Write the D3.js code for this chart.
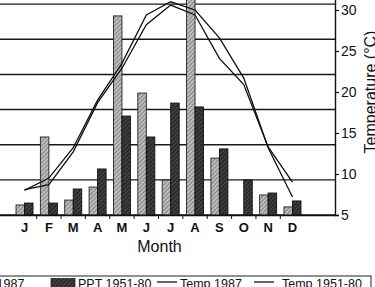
<!DOCTYPE html>
<html><head><meta charset="utf-8">
<script src="https://cdn.jsdelivr.net/npm/d3@7"></script>
<style>
body{margin:0;background:#fff}
svg{display:block}
text{font-family:"Liberation Sans",Arial,Helvetica,sans-serif;fill:#111}
</style>
</head><body>
<svg id="chart" width="375" height="287"></svg>
<script>
// ---- data ----
const months = ["J","F","M","A","M","J","J","A","S","O","N","D"];
const ppt1987 = [5.7, 44.4, 8.5, 15.9, 113.3, 69.4, 19.9, 136, 32.4, 0, 11.4, 4.6];
const ppt5180 = [6.8, 6.8, 14.8, 26.2, 56.3, 44.4, 63.7, 61.5, 37.6, 19.9, 12.5, 8.0];
const temp1987 = [8.0, 9.5, 13.2, 19.0, 23.5, 29.4, 31.0, 30.0, 26.6, 21.7, 13.2, 7.2];
const temp5180 = [8.1, 8.7, 12.7, 18.7, 22.9, 28.2, 30.6, 29.4, 24.1, 20.9, 13.3, 9.0];
const pptTicks = [0, 20, 40, 60, 80, 100, 120, 140];
const tempTicks = [5, 10, 15, 20, 25, 30];
const legendLabels = ["PPT 1987", "PPT 1951-80", "Temp 1987", "Temp 1951-80"];
const xTitle = "Month";
const yRightTitle = "Temperature (°C)";

// ---- layout ----
const svg = d3.select("#chart");
const L = -18, R = 335, T = -31, B = 215;

const defs = svg.append("defs");
const pLight = defs.append("pattern").attr("id","hLight").attr("patternUnits","userSpaceOnUse")
  .attr("width",3).attr("height",3).attr("patternTransform","rotate(45)");
pLight.append("rect").attr("width",3).attr("height",3).attr("fill","#bdbdbd");
pLight.append("line").attr("x1",0).attr("y1",0).attr("x2",0).attr("y2",3).attr("stroke","#5e5e5e").attr("stroke-width",1.2);
const pDark = defs.append("pattern").attr("id","hDark").attr("patternUnits","userSpaceOnUse")
  .attr("width",3).attr("height",3).attr("patternTransform","rotate(45)");
pDark.append("rect").attr("width",3).attr("height",3).attr("fill","#2a2a2a");
pDark.append("line").attr("x1",0).attr("y1",0).attr("x2",0).attr("y2",3).attr("stroke","#7a7a7a").attr("stroke-width",0.8);

const x = d3.scaleBand().domain(d3.range(months.length)).range([L, R]).paddingOuter(1.245).paddingInner(0);
const sub = d3.scaleBand().domain(["a","b"]).range([0, 17]);
const yP = d3.scaleLinear().domain([0, 140]).range([B, T]);
const yT = d3.scaleLinear().domain([5, 35]).range([B, T]);

// gridlines from precipitation axis
svg.append("g").selectAll("line").data(pptTicks).join("line")
  .attr("x1", L).attr("x2", R).attr("y1", d => yP(d)).attr("y2", d => yP(d))
  .attr("stroke", "#1a1a1a").attr("stroke-width", 1.4);

// left axis (lies outside the cropped view; labels not shown)
svg.append("g").attr("transform", `translate(${L},0)`)
  .call(d3.axisLeft(yP).tickValues(pptTicks).tickFormat(""));

// bars
const bars = svg.append("g");
const cx = i => x(i) + x.bandwidth() / 2;
bars.selectAll("rect.a").data(ppt1987).join("rect").attr("class","a")
  .attr("x", (d,i) => cx(i) - 8.5 + sub("a")).attr("width", sub.bandwidth())
  .attr("y", d => yP(d)).attr("height", d => yP(0) - yP(d))
  .attr("fill", "url(#hLight)").attr("stroke", d => d > 0 ? "#222" : "none").attr("stroke-width", 0.9);
bars.selectAll("rect.b").data(ppt5180).join("rect").attr("class","b")
  .attr("x", (d,i) => cx(i) - 8.5 + sub("b")).attr("width", sub.bandwidth())
  .attr("y", d => yP(d)).attr("height", d => yP(0) - yP(d))
  .attr("fill", "url(#hDark)").attr("stroke", "#111").attr("stroke-width", 0.9);

// temperature lines
const line = d3.line().x((d,i) => cx(i)).y(d => yT(d));
[temp1987, temp5180].forEach(s => {
  svg.append("path").datum(s).attr("d", line).attr("fill","none")
    .attr("stroke","#111").attr("stroke-width",1.3);
});

// bottom axis
const xb = svg.append("g").attr("transform", `translate(0,${B})`);
xb.call(d3.axisBottom(x).tickSize(0).tickPadding(8).tickFormat(i => months[i]));
xb.select(".domain").attr("stroke","#111").attr("stroke-width",1.4);
xb.selectAll("text").attr("font-size", 13).attr("font-weight", "bold").attr("fill","#111");
xb.selectAll("line.bnd").data(d3.range(1, months.length)).join("line").attr("class","bnd")
  .attr("x1", i => x(i)).attr("x2", i => x(i)).attr("y1", 0).attr("y2", 4)
  .attr("stroke", "#111").attr("stroke-width", 1);

// right axis
const ra = svg.append("g").attr("transform", `translate(${R},0)`)
  .call(d3.axisRight(yT).tickValues(tempTicks).tickSize(4).tickPadding(2));
ra.select(".domain").attr("stroke","#111").attr("stroke-width",1.4);
ra.selectAll("text").attr("font-size", 14).attr("fill","#111");
ra.selectAll(".tick line").attr("stroke","#111").attr("stroke-width",1.2);

// titles
svg.append("text").attr("x", (L + R) / 2 + 1).attr("y", 252).attr("text-anchor","middle")
  .attr("font-size", 16).text(xTitle);
svg.append("text").attr("transform", "translate(376,92) rotate(-90)").attr("text-anchor","middle")
  .attr("font-size", 16).text(yRightTitle);

// legend
const lg = svg.append("g");
lg.append("rect").attr("x", -80).attr("y", 276).attr("width", 451).attr("height", 30)
  .attr("fill","none").attr("stroke","#222").attr("stroke-width",1);
const items = [
  {kind:"rect", fill:"url(#hLight)", sx:-60, tx:-31},
  {kind:"rect", fill:"url(#hDark)", sx:51, tx:78},
  {kind:"line", sx:157, tx:180},
  {kind:"line", sx:254, tx:282}
];
items.forEach((it, k) => {
  if (it.kind === "rect") {
    lg.append("rect").attr("x", it.sx).attr("y", 278.5).attr("width", 24).attr("height", 12)
      .attr("fill", it.fill).attr("stroke","#222").attr("stroke-width",0.8);
  } else {
    lg.append("line").attr("x1", it.sx).attr("x2", it.sx + 20).attr("y1", 282).attr("y2", 282)
      .attr("stroke","#111").attr("stroke-width",1.3);
  }
  lg.append("text").attr("x", it.tx).attr("y", 288).attr("font-size", 12.5).text(legendLabels[k]);
});
</script>
</body></html>
